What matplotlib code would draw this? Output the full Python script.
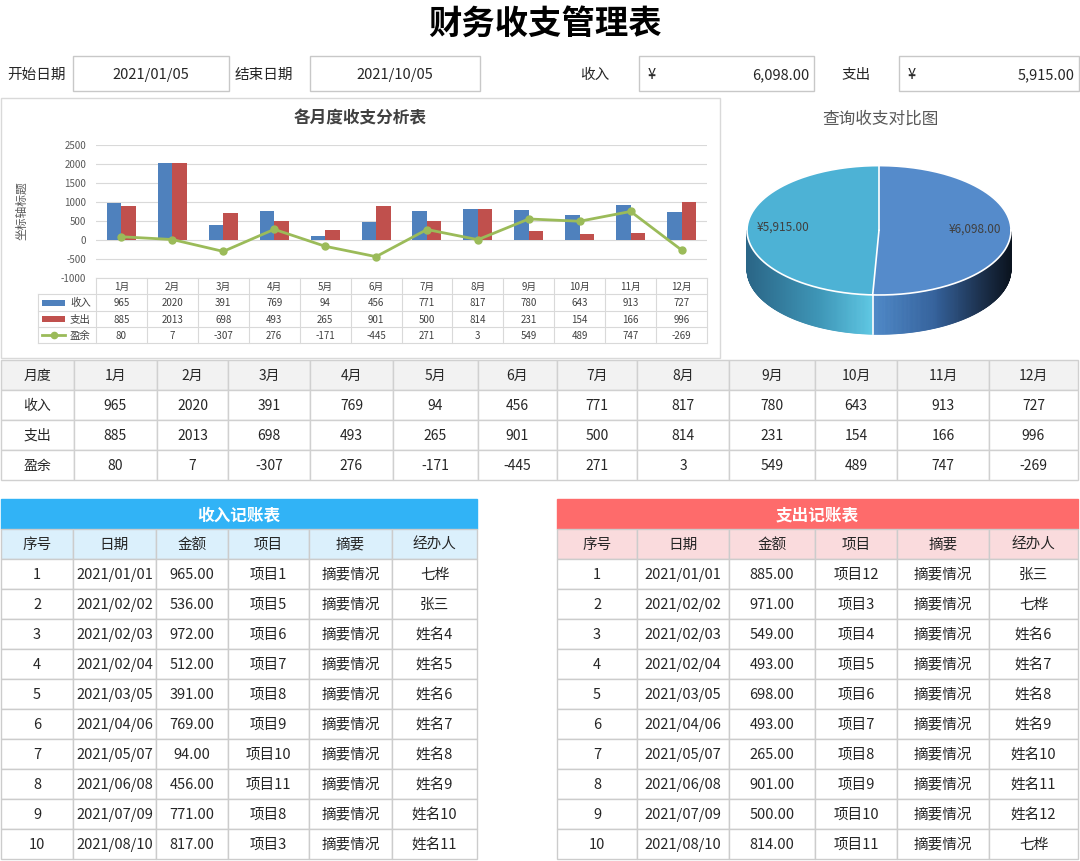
import numpy as np
import matplotlib
matplotlib.use('Agg')
import matplotlib.pyplot as plt
from matplotlib.patches import Rectangle, Polygon
from matplotlib.colors import to_rgb

plt.rcParams['font.family'] = ['Noto Sans CJK SC', 'DejaVu Sans']
plt.rcParams['axes.unicode_minus'] = False

# ---- data ----
months = [f'{i}月' for i in range(1, 13)]
income = [965, 2020, 391, 769, 94, 456, 771, 817, 780, 643, 913, 727]
expense = [885, 2013, 698, 493, 265, 901, 500, 814, 231, 154, 166, 996]
surplus = [80, 7, -307, 276, -171, -445, 271, 3, 549, 489, 747, -269]

start_date = '2021/01/05'
end_date = '2021/10/05'
income_total = 6098.00
expense_total = 5915.00

rec_no = list(range(1, 11))
rec_dates = ['2021/01/01', '2021/02/02', '2021/02/03', '2021/02/04', '2021/03/05',
             '2021/04/06', '2021/05/07', '2021/06/08', '2021/07/09', '2021/08/10']
inc_amount = [965, 536, 972, 512, 391, 769, 94, 456, 771, 817]
inc_item = ['项目1', '项目5', '项目6', '项目7', '项目8', '项目9', '项目10', '项目11', '项目8', '项目3']
inc_person = ['七桦', '张三', '姓名4', '姓名5', '姓名6', '姓名7', '姓名8', '姓名9', '姓名10', '姓名11']
exp_amount = [885, 971, 549, 493, 698, 493, 265, 901, 500, 814]
exp_item = ['项目12', '项目3', '项目4', '项目5', '项目6', '项目7', '项目8', '项目9', '项目10', '项目11']
exp_person = ['张三', '七桦', '姓名6', '姓名7', '姓名8', '姓名9', '姓名10', '姓名11', '姓名12', '七桦']
summary_txt = '摘要情况'
rec_cols = ['序号', '日期', '金额', '项目', '摘要', '经办人']

# ---- canvas in pixel coordinates ----
W, H = 1080, 861
fig = plt.figure(figsize=(W / 100, H / 100), dpi=100)
bg = fig.add_axes([0, 0, 1, 1])
bg.set_xlim(0, W)
bg.set_ylim(H, 0)
bg.axis('off')


def rect(x0, y0, x1, y1, fc='white', ec='#c8c8c8', lw=1, z=1):
    bg.add_patch(Rectangle((x0, y0), x1 - x0, y1 - y0, facecolor=fc,
                           edgecolor=ec, linewidth=lw, zorder=z))


def txt(x, y, s, size=10.5, ha='center', color='#262626', weight='normal', **kw):
    bg.text(x, y - 0.05 * size, s, fontsize=size, ha=ha, va='center_baseline', color=color,
            fontweight=weight, zorder=5, **kw)


def grid_table(xs, ys, rows, fills, ec='#d0d0d0', size=10.5):
    for r in range(len(ys) - 1):
        for c in range(len(xs) - 1):
            rect(xs[c], ys[r], xs[c + 1], ys[r + 1], fc=fills[r], ec=ec)
            txt((xs[c] + xs[c + 1]) / 2, (ys[r] + ys[r + 1]) / 2, str(rows[r][c]), size=size)


# title
txt(545, 22, '财务收支管理表', size=24, weight='bold', color='black')

# query row
txt(7, 74, '开始日期', ha='left')
rect(73, 56, 229, 90.5)
txt(151, 74, start_date)
txt(235, 74, '结束日期', ha='left')
rect(310, 56, 480, 90.5)
txt(395, 74, end_date)
txt(580, 74, '收入', ha='left')
rect(639, 56, 814, 90.5)
txt(648, 74, '¥', ha='left')
txt(809, 74, f'{income_total:,.2f}', ha='right')
txt(841, 74, '支出', ha='left')
rect(899, 56, 1079, 90.5)
txt(908, 74, '¥', ha='left')
txt(1075, 74, f'{expense_total:,.2f}', ha='right')

# ---- combo chart panel ----
rect(0.5, 97.5, 720, 357.5, ec='#d9d9d9', z=0)
txt(360, 117, '各月度收支分析表', size=12, weight='bold', color='#404040')
bg.text(22, 211, '坐标轴标题', fontsize=8.5, color='#595959', rotation=90,
        ha='center', va='center')

px0, px1, py_top, py_bot = 96, 707, 145, 277.7
ax = fig.add_axes([px0 / W, 1 - py_bot / H, (px1 - px0) / W, (py_bot - py_top) / H])
x = np.arange(len(months))
bw = 0.285
ax.bar(x - bw / 2, income, bw, color='#4f81bd', zorder=2)
ax.bar(x + bw / 2, expense, bw, color='#c0504d', zorder=2)
ax.plot(x, surplus, color='#9bbb59', lw=2, marker='o', ms=5, zorder=3)
ax.set_xlim(-0.5, 11.5)
ax.set_ylim(-1000, 2500)
ax.set_yticks(range(-1000, 2501, 500))
ax.set_xticks([])
ax.tick_params(axis='y', length=0, labelsize=7, labelcolor='#595959', pad=7)
for s in ax.spines.values():
    s.set_visible(False)
ax.grid(axis='y', color='#d9d9d9', lw=0.8, zorder=0)
ax.set_facecolor('none')

# data table under the chart
cw = (px1 - px0) / len(months)
ty = [277.7, 294.3, 311, 327, 343]
lc = '#d9d9d9'
bg.plot([px0, px1], [ty[0], ty[0]], color=lc, lw=0.8)
for yy in ty[1:]:
    bg.plot([38, px1], [yy, yy], color=lc, lw=0.8)
for i in range(len(months) + 1):
    bg.plot([px0 + i * cw] * 2, [ty[0], ty[-1]], color=lc, lw=0.8)
bg.plot([38, 38], [ty[1], ty[-1]], color=lc, lw=0.8)
for i, m in enumerate(months):
    cx_ = px0 + (i + 0.5) * cw
    txt(cx_, (ty[0] + ty[1]) / 2, m, size=7, color='#404040')
    for r, ser in enumerate([income, expense, surplus]):
        txt(cx_, (ty[r + 1] + ty[r + 2]) / 2, str(ser[i]), size=7, color='#404040')
legend_rows = [('收入', '#4f81bd', 'bar'), ('支出', '#c0504d', 'bar'), ('盈余', '#9bbb59', 'line')]
for r, (lab, col, kind) in enumerate(legend_rows):
    ym = (ty[r + 1] + ty[r + 2]) / 2
    if kind == 'bar':
        rect(42, ym - 3, 65, ym + 3, fc=col, ec='none', z=3)
    else:
        bg.plot([42, 65], [ym, ym], color=col, lw=2, zorder=3)
        bg.plot([53.5], [ym], 'o', color=col, ms=4.5, zorder=4)
    txt(70, ym, lab, size=7.5, ha='left', color='#404040')

# ---- 3D pie ----
txt(881, 118, '查询收支对比图', size=12, color='#595959')
cx, cy, a, b, depth = 879, 230.3, 132, 64.7, 39.3
total = income_total + expense_total
split = 90 - 360 * income_total / total


def ell(t_deg):
    t = np.radians(t_deg)
    return cx + a * np.cos(t), cy - b * np.sin(t)


def lerp(stops, u):
    pos = [p for p, _ in stops]
    cols = np.array([to_rgb(c) for _, c in stops])
    return tuple(np.interp(u, pos, cols[:, k]) for k in range(3))


exp_stops = [(0, '#2a6586'), (0.6, '#3f98b9'), (1, '#5ec7e3')]
inc_stops = [(0, '#4f8ac9'), (0.45, '#35629c'), (0.8, '#1b2f4a'), (1, '#0b1420')]
xs_split = ell(split)[0]
ts = np.linspace(180, 360, 361)
for t0, t1 in zip(ts[:-1], ts[1:]):
    xa, ya = ell(t0)
    xb, yb = ell(t1)
    xm = (xa + xb) / 2
    if (t0 + t1) / 2 < split + 360:
        col = lerp(exp_stops, (xm - (cx - a)) / (xs_split - (cx - a)))
    else:
        col = lerp(inc_stops, (xm - xs_split) / ((cx + a) - xs_split))
    bg.add_patch(Polygon([(xa, ya), (xb, yb), (xb, yb + depth), (xa, ya + depth)],
                         closed=True, facecolor=col, edgecolor=col, lw=0.6, zorder=2))

for t_start, t_end, col in [(90, split, '#558bcb'), (split, -270, '#4db2d5')]:
    tt = np.linspace(t_start, t_end, 300)
    pts = [(cx, cy)] + [ell(t) for t in tt]
    bg.add_patch(Polygon(pts, closed=True, facecolor=col, edgecolor='none', zorder=3))

tt = np.linspace(0, 360, 400)
ex, ey = zip(*[ell(t) for t in tt])
bg.plot(ex, ey, color='white', lw=1.2, zorder=4)
for t in [90, split]:
    xe, ye = ell(t)
    bg.plot([cx, xe], [cy, ye], color='white', lw=1.2, zorder=4)
xe, ye = ell(split)
bg.plot([xe, xe], [ye, ye + depth], color='white', lw=1.2, zorder=4)

for t_mid, val in [((90 + split) / 2, income_total), ((split - 270) / 2, expense_total)]:
    lx, ly = ell(t_mid)
    lx = cx + 0.73 * (lx - cx)
    ly = cy + 0.73 * (ly - cy) - 3
    txt(lx, ly, f'¥{val:,.2f}', size=8.5, color='#404040')

# ---- monthly summary table ----
sx = [1, 74, 157, 228, 310, 393, 478, 557, 637, 729, 815, 897, 989, 1078]
sy = [360, 390, 420, 450, 480]
srows = [['月度'] + months, ['收入'] + income, ['支出'] + expense, ['盈余'] + surplus]
grid_table(sx, sy, srows, ['#f2f2f2', 'white', 'white', 'white'], size=10)

# ---- record tables ----
ry = [529 + 30 * k for k in range(12)]


def record_table(xs, title, title_fc, head_fc, amounts, items, persons):
    rect(xs[0], 499, xs[-1], 529, fc=title_fc, ec=title_fc)
    txt((xs[0] + xs[-1]) / 2, 514, title, size=12, weight='bold', color='white')
    rows = [rec_cols]
    for i in range(len(rec_no)):
        rows.append([rec_no[i], rec_dates[i], f'{amounts[i]:.2f}', items[i], summary_txt, persons[i]])
    grid_table(xs, ry, rows, [head_fc] + ['white'] * len(rec_no), ec='#cccccc', size=10.5)


record_table([1, 73, 156, 228, 309, 392, 477], '收入记账表', '#31b3f6', '#dbf0fc',
             inc_amount, inc_item, inc_person)
record_table([557, 637, 729, 815, 897, 989, 1078], '支出记账表', '#fe6b6b', '#fadbdd',
             exp_amount, exp_item, exp_person)

fig.savefig('out.png', dpi=100)
